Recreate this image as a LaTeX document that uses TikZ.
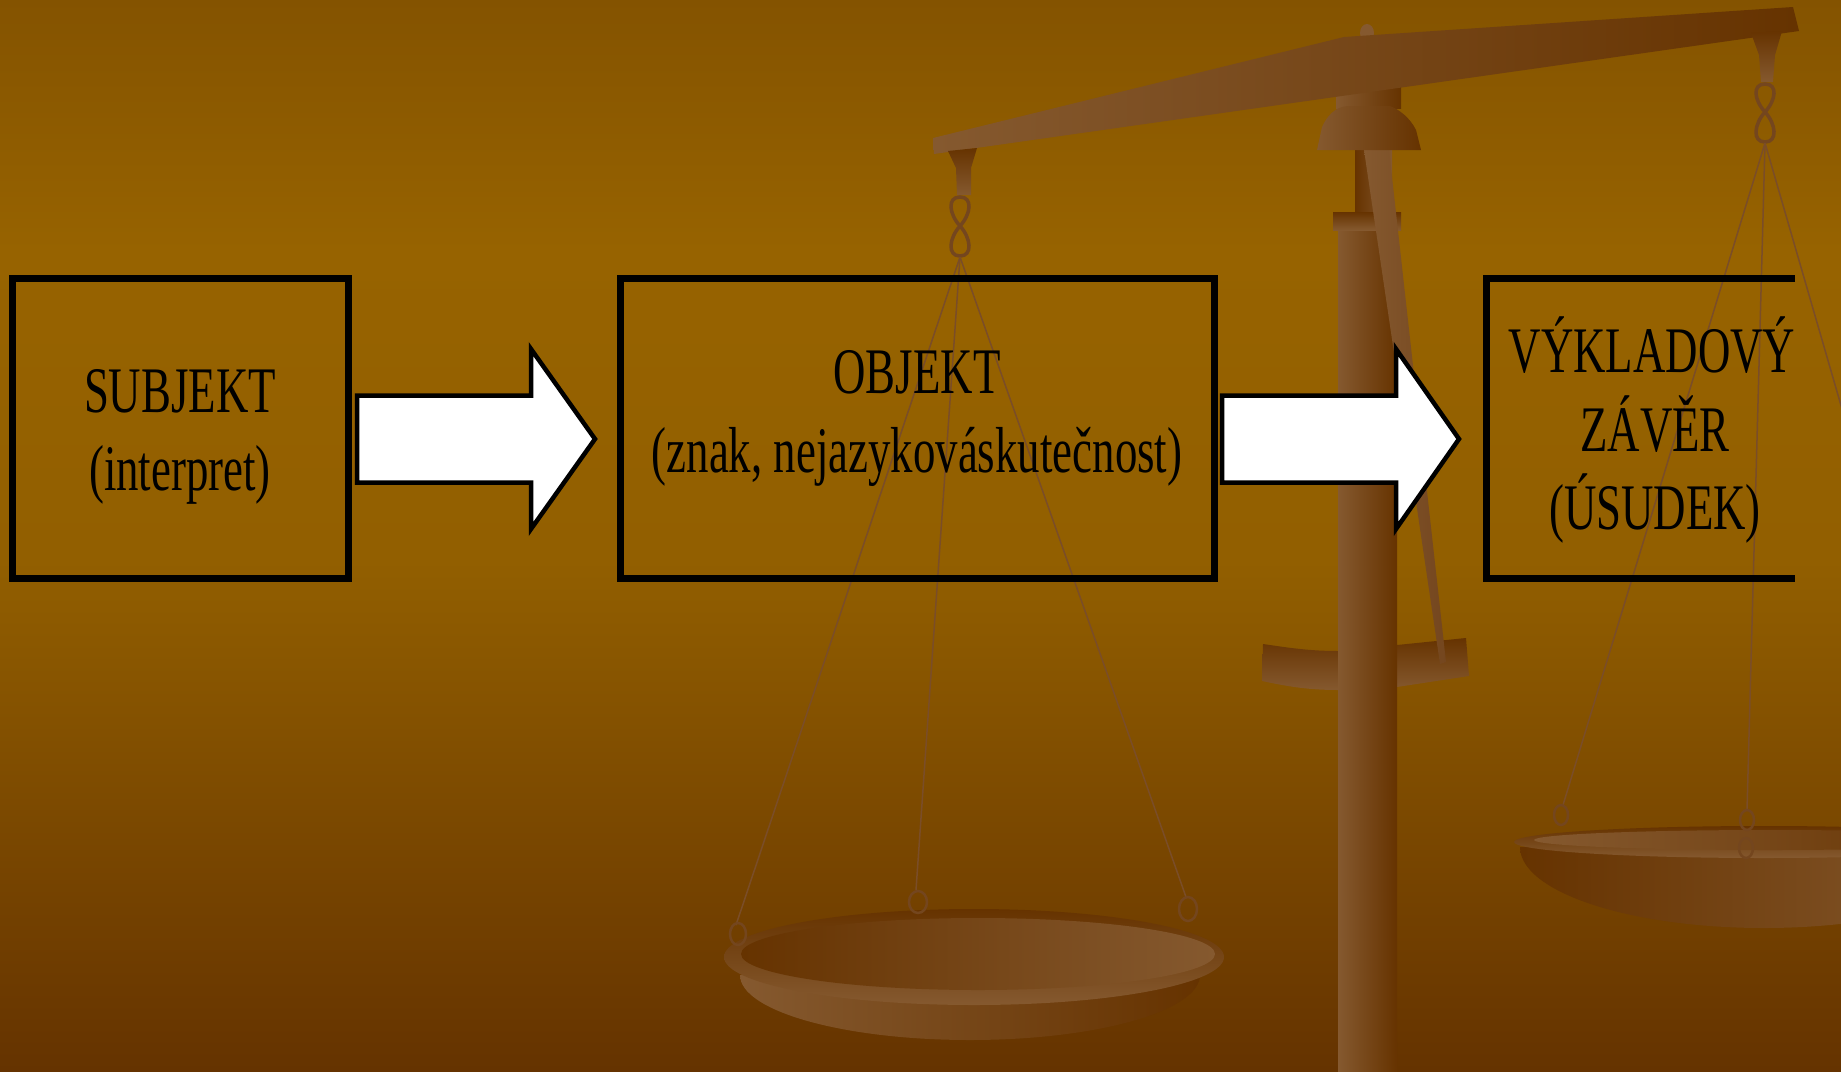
\documentclass[tikz,border=0pt]{standalone}
\usepackage{fontspec}
\newfontfamily\tnr[FakeStretch=0.69]{Liberation Serif}
\usetikzlibrary{calc}
\definecolor{bgtop}{HTML}{845300}
\definecolor{bgmid}{HTML}{976300}
\definecolor{bgmid2}{HTML}{925F00}
\definecolor{bgbot}{HTML}{653300}
\definecolor{lightw}{HTML}{85592F}
\definecolor{darkw}{HTML}{663300}
\definecolor{midw}{HTML}{74461E}
\definecolor{strc}{HTML}{7A4D28}
\begin{document}
\begin{tikzpicture}[x=1pt,y=-1pt,line join=miter,
  boxst/.style={draw=black,line width=7pt,minimum height=300pt,inner sep=0pt},
  blockarrow/.style={draw=black,fill=white,line width=4.5pt},
  lbl/.style={font=\tnr\fontsize{65}{78}\selectfont,anchor=base,inner sep=0pt,text=black},
  stringst/.style={draw=strc,line width=1.5pt},
  chainst/.style={draw=midw,line width=3.5pt},
  hookst/.style={draw=midw,line width=2.5pt}]
\useasboundingbox (0,0) rectangle (1841,1071);
% background
\shade[top color=bgtop,bottom color=bgmid] (0,0) rectangle (1841,251);
\shade[top color=bgmid,bottom color=bgmid2] (0,250) rectangle (1841,561);
\shade[top color=bgmid2,bottom color=bgbot] (0,560) rectangle (1841,1071);
% balance
\begin{scope}
\clip (0,0) rectangle (1841,1071);
% crossbar
\shade[top color=darkw,bottom color=lightw] (1263,644) .. controls (1290,648) and (1310,651) .. (1338,651) -- (1397,645) -- (1466,638) -- (1469,676) -- (1397,687) -- (1338,690) .. controls (1310,690) and (1290,687) .. (1262,681) -- cycle;
% column
\shade[left color=lightw,right color=darkw] (1338,226) rectangle (1397,1071);
% upper narrow post
\shade[left color=darkw,right color=lightw] (1355,148) rectangle (1392,214);
% collar
\shade[top color=darkw,bottom color=lightw] (1333,212) rectangle (1401,230);
% needle
\shade[left color=lightw,right color=midw] (1364,150) -- (1389,150) -- (1446,662) -- (1440,664) -- cycle;
% post above dome
\shade[left color=lightw,right color=darkw] (1336,85) rectangle (1401,108);
% dome
\shade[left color=lightw,right color=darkw] (1317,150) -- (1322,127) .. controls (1330,110) and (1340,106) .. (1350,106) -- (1390,106) .. controls (1400,110) and (1410,118) .. (1416,130) -- (1421,150) -- cycle;
% knob
\fill[lightw] (1367,33) ellipse (7 and 9);
% beam
\shade[left color=lightw,right color=darkw] (933,138) -- (1344,37) -- (1793,7) -- (1799,31) -- (934,154) -- cycle;
% left hanger
\shade[top color=darkw,bottom color=lightw] (948,151) -- (977,148) -- (971,168) -- (971,195) -- (957,195) -- (956,168) -- cycle;
\draw[chainst] (960,197) .. controls (947,197) and (949,214) .. (960,226) .. controls (971,238) and (973,256) .. (960,256) .. controls (947,256) and (949,238) .. (960,226) .. controls (971,214) and (973,197) .. (960,197) -- cycle;
% right hanger
\shade[top color=darkw,bottom color=lightw] (1751,33) -- (1782,31) -- (1775,55) -- (1773,82) -- (1761,82) -- (1759,55) -- cycle;
\draw[chainst] (1765,84) .. controls (1752,84) and (1754,100) .. (1765,112) .. controls (1776,124) and (1778,142) .. (1765,142) .. controls (1752,142) and (1754,124) .. (1765,112) .. controls (1776,100) and (1778,84) .. (1765,84) -- cycle;
% left pan strings
\draw[stringst] (960,257) -- (736,925);
\draw[stringst] (960,257) -- (916,890);
\draw[stringst] (960,257) -- (1186,897);
% left pan
\shade[left color=lightw,right color=darkw] (740,975) arc[start angle=180,end angle=0,x radius=230,y radius=65] -- cycle;
\shade[top color=darkw,bottom color=lightw] (974,957) ellipse (250 and 48);
\shade[left color=darkw,right color=lightw] (978,954) ellipse (237 and 36);
\draw[hookst] (738,934) ellipse (8 and 11);
\draw[hookst] (918,902) ellipse (9 and 11);
\draw[hookst] (1188,909) ellipse (9 and 12);
% right pan strings
\draw[stringst] (1765,143) -- (1563,805);
\draw[stringst] (1765,143) -- (1747,810);
\draw[stringst] (1765,143) -- (1990,920);
% right pan
\shade[left color=darkw,right color=lightw] (1520,847) arc[start angle=180,end angle=0,x radius=244,y radius=81] -- cycle;
\shade[top color=darkw,bottom color=lightw] (1764,842) ellipse (250 and 16);
\shade[left color=lightw,right color=darkw] (1770,840) ellipse (236 and 10);
\draw[hookst] (1561,815) ellipse (7 and 10);
\draw[hookst] (1747,820) ellipse (7 and 10);
\draw[hookst] (1746,848) ellipse (7 and 10);
\end{scope}
% boxes
\node[boxst,minimum width=336pt] (subj) at (180,428) {};
\node[boxst,minimum width=594pt] (obj) at (917,428) {};
\coordinate (zt) at (1795,278);
\coordinate (zb) at (1795,578);
\draw[line width=7pt] (zt) -- (1486,278) -- (1486,578) -- (zb);
% texts
\node[lbl] (t1) at (180,412) {SUBJEKT};
\node[lbl] (t2) at (180,490) {(interpret)};
\node[lbl] (t3) at (917,393) {OBJEKT};
\node[lbl] (t4) at (917,472) {(znak, nejazykováskutečnost)};
\node[lbl] (t5) at (1652,372) {VÝKLADOVÝ};
\node[lbl] (t6) at (1655,451) {ZÁVĚR};
\node[lbl] (t7) at (1655,529) {(ÚSUDEK)};
% block arrows
\draw[blockarrow] ($(subj.east)+(5.5,11)$) ++(0,-43.5) -- ++(174,0) -- ++(0,-46.5) -- ++(64,90) -- ++(-64,90) -- ++(0,-46.5) -- ++(-174,0) -- cycle;
\draw[blockarrow] ($(obj.east)+(4.5,11)$) ++(0,-43.5) -- ++(174,0) -- ++(0,-46.5) -- ++(63,90) -- ++(-63,90) -- ++(0,-46.5) -- ++(-174,0) -- cycle;
\end{tikzpicture}
\end{document}
